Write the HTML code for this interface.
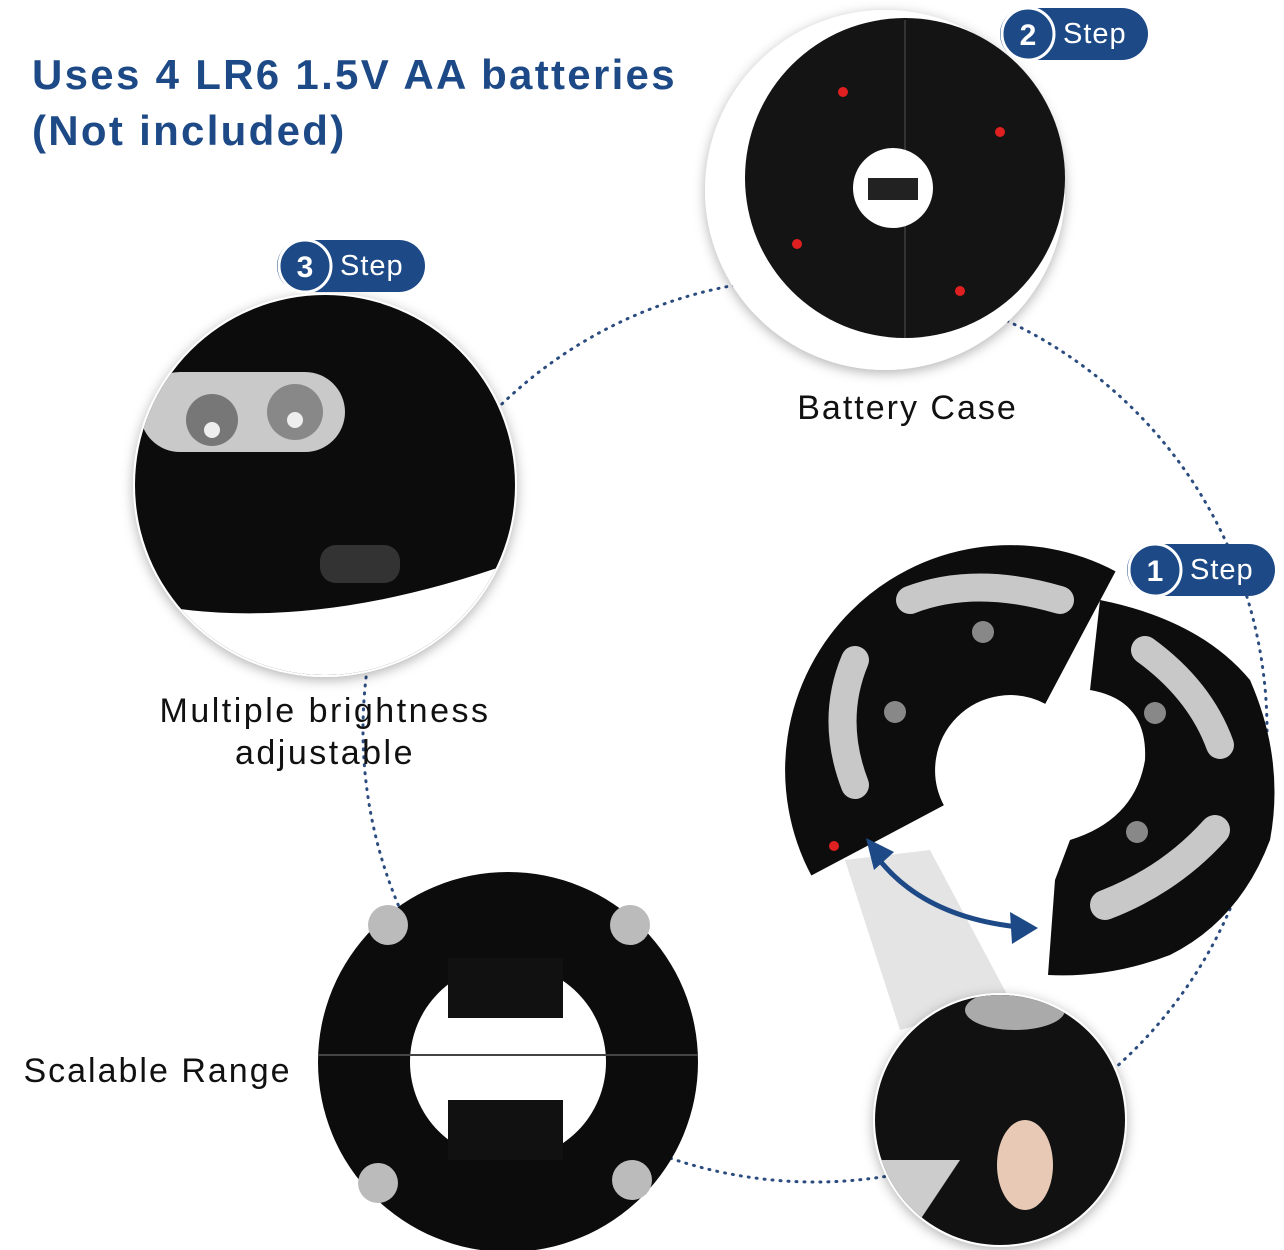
<!DOCTYPE html>
<html><head><meta charset="utf-8"><style>
body{margin:0;background:#fff;width:1284px;height:1250px;overflow:hidden;position:relative;font-family:"Liberation Sans",sans-serif}
.t{position:absolute;color:#1d4a86;font-weight:bold;font-size:42px;line-height:56px;left:32px;top:47px;letter-spacing:2.3px;white-space:nowrap}
.l{position:absolute;color:#111;font-size:34px;text-align:center;line-height:42px;white-space:nowrap}
</style></head><body>
<svg width="1284" height="1250" style="position:absolute;left:0;top:0">
<defs>
<filter id="sh" x="-20%" y="-20%" width="140%" height="140%"><feDropShadow dx="0" dy="3" stdDeviation="6" flood-color="#000" flood-opacity="0.3"/></filter>
<clipPath id="c3"><circle cx="325" cy="485" r="190"/></clipPath>
<clipPath id="c4"><circle cx="1000" cy="1120" r="125"/></clipPath>
</defs>
<circle cx="815" cy="730" r="452" fill="none" stroke="#2b4c7e" stroke-width="3" stroke-dasharray="1 7" stroke-linecap="round"/>
<polygon points="845,860 930,850 1010,1000 900,1030" fill="#e4e4e4"/>
<circle cx="885" cy="190" r="180" fill="#fff" filter="url(#sh)"/>
<circle cx="905" cy="178" r="160" fill="#141414"/>
<line x1="905" y1="20" x2="905" y2="338" stroke="#333" stroke-width="2"/>
<circle cx="893" cy="188" r="40" fill="#fff"/>
<rect x="868" y="178" width="50" height="22" fill="#222"/>
<circle cx="843" cy="92" r="5" fill="#e02020"/><circle cx="1000" cy="132" r="5" fill="#e02020"/>
<circle cx="797" cy="244" r="5" fill="#e02020"/><circle cx="960" cy="291" r="5" fill="#e02020"/>
<circle cx="325" cy="485" r="192" fill="#fff" filter="url(#sh)"/>
<g clip-path="url(#c3)">
<rect x="130" y="290" width="400" height="400" fill="#0c0c0c"/>
<path d="M130,600 Q300,640 520,560 L520,690 L130,690Z" fill="#fff"/>
<rect x="140" y="372" width="205" height="80" rx="40" fill="#c9c9c9"/>
<circle cx="212" cy="420" r="26" fill="#777"/><circle cx="295" cy="412" r="28" fill="#888"/>
<circle cx="212" cy="430" r="8" fill="#eee"/><circle cx="295" cy="420" r="8" fill="#eee"/>
<rect x="320" y="545" width="80" height="38" rx="16" fill="#333"/>
</g>
<circle cx="508" cy="1062" r="190" fill="#0c0c0c"/>
<circle cx="508" cy="1062" r="98" fill="#fff"/>
<line x1="318" y1="1055" x2="698" y2="1055" stroke="#444" stroke-width="2"/>
<rect x="448" y="958" width="115" height="60" fill="#111"/>
<rect x="448" y="1100" width="115" height="60" fill="#111"/>
<circle cx="388" cy="925" r="20" fill="#bbb"/><circle cx="630" cy="925" r="20" fill="#bbb"/>
<circle cx="378" cy="1183" r="20" fill="#bbb"/><circle cx="632" cy="1180" r="20" fill="#bbb"/>
<circle cx="1000" cy="1120" r="127" fill="#fff" filter="url(#sh)"/>
<g clip-path="url(#c4)">
<rect x="870" y="990" width="260" height="260" fill="#111"/>
<path d="M870,1160 L960,1160 L900,1250 L870,1250Z" fill="#ccc"/>
<ellipse cx="1015" cy="1010" rx="50" ry="20" fill="#aaa"/>
<ellipse cx="1025" cy="1165" rx="28" ry="45" fill="#e8c9b5"/>
</g>
<path d="M877.6,840.4 A150,150 0 0 1 1080.4,637.6" fill="none" stroke="#0d0d0d" stroke-width="150"/>
<path d="M1100,600 Q1200,620 1250,680 Q1285,760 1270,840 Q1240,920 1170,955 Q1110,978 1048,975 L1055,880 L1070,840 Q1135,820 1145,760 Q1148,700 1090,690 Z" fill="#0d0d0d"/>
<path d="M910,600 Q975,575 1060,600" fill="none" stroke="#c8c8c8" stroke-width="28" stroke-linecap="round"/>
<path d="M855,660 Q830,720 855,785" fill="none" stroke="#c8c8c8" stroke-width="28" stroke-linecap="round"/>
<path d="M1145,650 Q1200,690 1220,745" fill="none" stroke="#c8c8c8" stroke-width="28" stroke-linecap="round"/>
<path d="M1105,905 Q1170,880 1215,830" fill="none" stroke="#c8c8c8" stroke-width="30" stroke-linecap="round"/>
<circle cx="983" cy="632" r="11" fill="#888"/><circle cx="895" cy="712" r="11" fill="#888"/>
<circle cx="1155" cy="713" r="11" fill="#888"/><circle cx="1137" cy="832" r="11" fill="#888"/>
<circle cx="834" cy="846" r="5" fill="#e02020"/>
<path d="M872,850 Q920,920 1030,928" fill="none" stroke="#1d4a86" stroke-width="5"/>
<polygon points="866,838 894,852 874,870" fill="#1d4a86"/>
<polygon points="1038,928 1010,912 1012,944" fill="#1d4a86"/>
<g font-family="Liberation Sans,sans-serif">
<rect x="1000" y="8" width="148" height="52" rx="26" fill="#1d4a86"/><circle cx="1028" cy="34" r="26" fill="#1d4a86" stroke="#fff" stroke-width="3"/>
<text x="1028" y="45" fill="#fff" font-size="30" font-weight="bold" text-anchor="middle">2</text>
<text x="1063" y="43" fill="#fff" font-size="29" letter-spacing="1">Step</text>
<rect x="277" y="240" width="148" height="52" rx="26" fill="#1d4a86"/><circle cx="305" cy="266" r="26" fill="#1d4a86" stroke="#fff" stroke-width="3"/>
<text x="305" y="277" fill="#fff" font-size="30" font-weight="bold" text-anchor="middle">3</text>
<text x="340" y="275" fill="#fff" font-size="29" letter-spacing="1">Step</text>
<rect x="1127" y="544" width="148" height="52" rx="26" fill="#1d4a86"/><circle cx="1155" cy="570" r="26" fill="#1d4a86" stroke="#fff" stroke-width="3"/>
<text x="1155" y="581" fill="#fff" font-size="30" font-weight="bold" text-anchor="middle">1</text>
<text x="1190" y="579" fill="#fff" font-size="29" letter-spacing="1">Step</text>
</g>
</svg>
<div class="t">Uses 4 LR6 1.5V AA batteries<br>(Not included)</div>
<div class="l" style="left:780px;top:387px;width:255px;letter-spacing:2px">Battery Case</div>
<div class="l" style="left:130px;top:690px;width:390px;letter-spacing:2.5px">Multiple brightness<br>adjustable</div>
<div class="l" style="left:5px;top:1050px;width:305px;letter-spacing:2px">Scalable Range</div>
</body></html>
